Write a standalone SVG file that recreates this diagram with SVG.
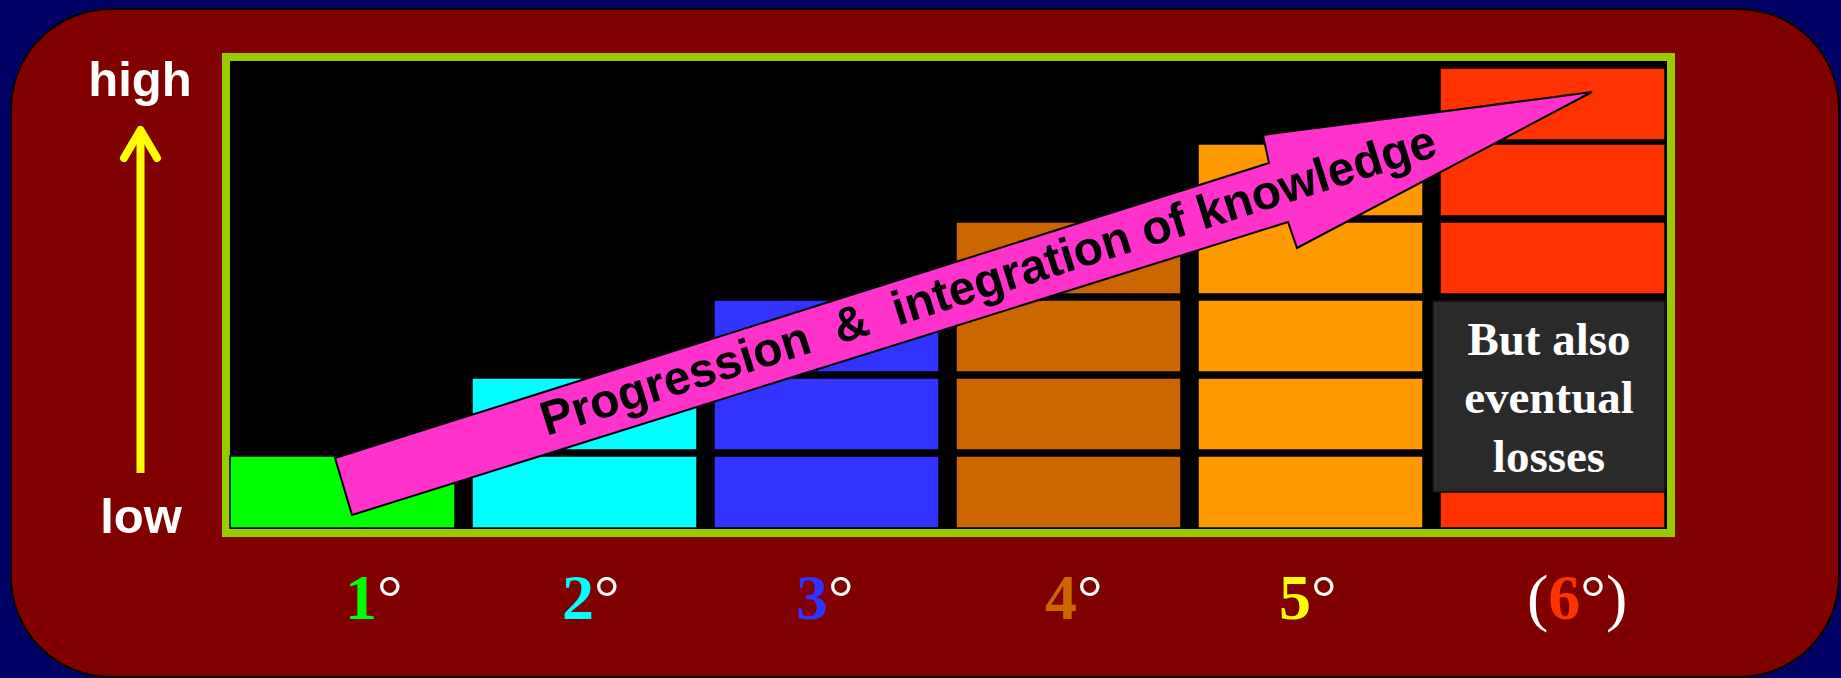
<svg xmlns="http://www.w3.org/2000/svg" width="1841" height="678" viewBox="0 0 1841 678">
<style>
.bar{stroke:#000;stroke-width:1.5}
.c1{fill:#00FF00}.c2{fill:#00FFFF}.c3{fill:#3333FF}.c4{fill:#CC6600}.c5{fill:#FF9900}.c6{fill:#FF3300}
.axis{font-family:"Liberation Sans",Arial,sans-serif;font-weight:bold;font-size:49px;fill:#fff;text-anchor:middle}
.lbl{font-family:"Liberation Serif","Times New Roman",serif;font-size:64px;fill:#fff}
.dig{font-weight:bold}
.box{font-family:"Liberation Serif","Times New Roman",serif;font-weight:bold;font-size:47px;fill:#fff;text-anchor:middle}
.prog{font-family:"Liberation Sans",Arial,sans-serif;font-weight:bold;font-size:48px;fill:#000;white-space:pre}
</style>
<rect x="0" y="0" width="1841" height="678" fill="#000066"/>
<rect id="panel" x="11" y="9" width="1828" height="668" rx="100" ry="100" fill="#800000" stroke="#000" stroke-width="2"/>
<g id="frame">
<rect x="226" y="57" width="1445" height="476" fill="#000" stroke="#99CC00" stroke-width="8"/>
</g>
<g id="col1">
<rect class="bar c1" x="230" y="456" width="225" height="72"/>
</g>
<g id="col2">
<rect class="bar c2" x="472" y="456" width="225" height="72"/>
<rect class="bar c2" x="472" y="378" width="225" height="72"/>
</g>
<g id="col3">
<rect class="bar c3" x="714" y="456" width="225" height="72"/>
<rect class="bar c3" x="714" y="378" width="225" height="72"/>
<rect class="bar c3" x="714" y="300" width="225" height="72"/>
</g>
<g id="col4">
<rect class="bar c4" x="956" y="456" width="225" height="72"/>
<rect class="bar c4" x="956" y="378" width="225" height="72"/>
<rect class="bar c4" x="956" y="300" width="225" height="72"/>
<rect class="bar c4" x="956" y="222" width="225" height="72"/>
</g>
<g id="col5">
<rect class="bar c5" x="1198" y="456" width="225" height="72"/>
<rect class="bar c5" x="1198" y="378" width="225" height="72"/>
<rect class="bar c5" x="1198" y="300" width="225" height="72"/>
<rect class="bar c5" x="1198" y="222" width="225" height="72"/>
<rect class="bar c5" x="1198" y="144" width="225" height="72"/>
</g>
<g id="col6">
<rect class="bar c6" x="1440" y="456" width="225" height="72"/>
<rect class="bar c6" x="1440" y="378" width="225" height="72"/>
<rect class="bar c6" x="1440" y="300" width="225" height="72"/>
<rect class="bar c6" x="1440" y="222" width="225" height="72"/>
<rect class="bar c6" x="1440" y="144" width="225" height="72"/>
<rect class="bar c6" x="1440" y="68" width="225" height="72"/>
</g>
<g id="losses">
<rect x="1433" y="301" width="232" height="191" fill="#2A2A2A" stroke="#111" stroke-width="1.5"/>
<text class="box" x="1549" y="355">But also</text>
<text class="box" x="1549" y="413">eventual</text>
<text class="box" x="1549" y="472">losses</text>
</g>
<g id="progression">
<polygon points="352,515 335,458 1269,163 1263,135 1592,92 1297,248 1288,222" fill="#FF33CC" stroke="#000" stroke-width="2" stroke-linejoin="miter"/>
<text class="prog" xml:space="preserve" transform="translate(546.5,436.1) rotate(-17.46)">Progression  &amp;  integration of knowledge</text>
</g>
<g id="connectors">
<line x1="140.5" y1="473" x2="140.5" y2="132" stroke="#FFFF00" stroke-width="8"/>
<polyline points="124,158 140.5,130 157,158" fill="none" stroke="#FFFF00" stroke-width="8" stroke-linecap="round" stroke-linejoin="round"/>
</g>
<g id="axis-labels">
<text class="axis" x="140" y="96">high</text>
<text class="axis" x="141" y="533">low</text>
</g>
<g id="degree-labels">
<text class="lbl" x="345" y="619"><tspan class="dig" fill="#00FF00">1</tspan>°</text>
<text class="lbl" x="562" y="619"><tspan class="dig" fill="#00FFFF">2</tspan>°</text>
<text class="lbl" x="796" y="619"><tspan class="dig" fill="#3333FF">3</tspan>°</text>
<text class="lbl" x="1045" y="619"><tspan class="dig" fill="#CC6600">4</tspan>°</text>
<text class="lbl" x="1279" y="619"><tspan class="dig" fill="#FFFF00">5</tspan>°</text>
<text class="lbl" x="1527" y="619">(<tspan class="dig" fill="#FF3300">6</tspan>°)</text>
</g>
</svg>
